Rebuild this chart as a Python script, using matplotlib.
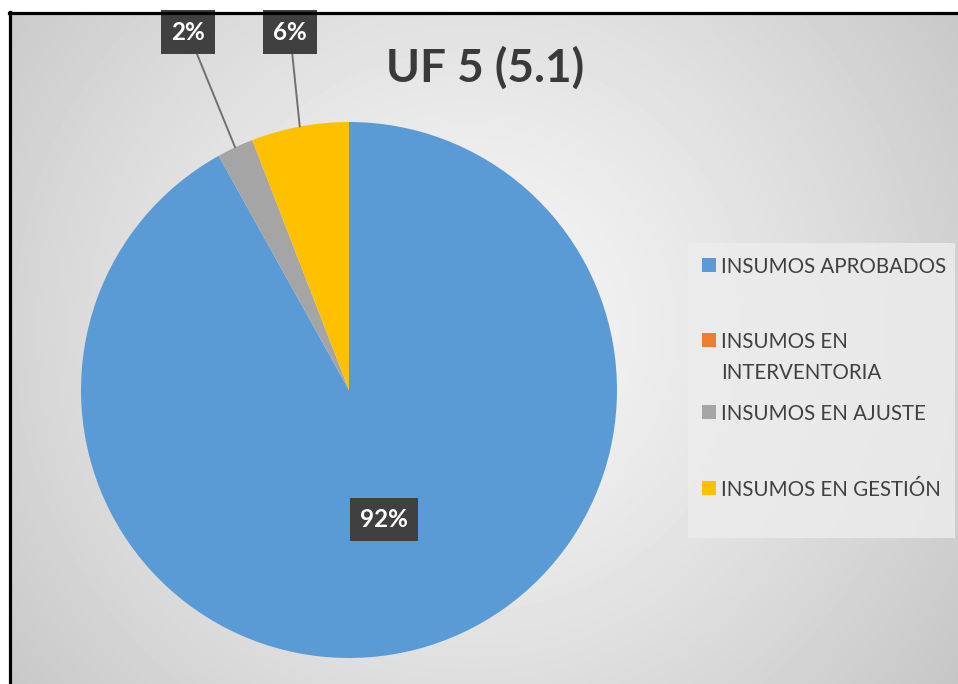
import numpy as np
import matplotlib.pyplot as plt
from matplotlib.patches import Rectangle
from matplotlib.lines import Line2D

# data
categories = ["INSUMOS APROBADOS", "INSUMOS EN\nINTERVENTORIA", "INSUMOS EN AJUSTE", "INSUMOS EN GESTIÓN"]
values = [125, 0, 3, 8]
colors = ["#5B9BD5", "#ED7D31", "#A5A5A5", "#FFC000"]
title = "UF 5 (5.1)"

plt.rcParams['font.family'] = ['Lato', 'DejaVu Sans']

W, H = 958, 684
fig = plt.figure(figsize=(W / 100, H / 100), dpi=100)
fig.patch.set_facecolor('white')


def fx(x):
    return x / W


def fy(y):
    return 1 - y / H


# background with radial gradient
bg = fig.add_axes([fx(9), 0, 1 - fx(9), fy(12)])
xx, yy = np.meshgrid(np.arange(9, W), np.arange(12, H))
d = np.hypot(xx - 470, yy - 330)
g = 0.965 - 0.19 * (d / d.max()) ** 1.3
bg.imshow(g, cmap='gray', vmin=0, vmax=1, extent=[9, W, H, 12], aspect='auto')
bg.set_xlim(9, W)
bg.set_ylim(H, 12)
bg.axis('off')

# border (top and left visible)
fig.add_artist(Line2D([fx(9), 1], [fy(13), fy(13)], color='black', lw=2.3, zorder=10))
fig.add_artist(Line2D([fx(10), fx(10)], [fy(12), 0], color='black', lw=2.3, zorder=10))

# pie
cx, cy, R = 349, 390, 268
ax = fig.add_axes([fx(cx - R), fy(cy + R), 2 * R / W, 2 * R / H])
wedges, _ = ax.pie(values, colors=colors, startangle=90, counterclock=False,
                   wedgeprops=dict(linewidth=0))
ax.set_xlim(-1, 1)
ax.set_ylim(-1, 1)

total = sum(values)
label_pos = [None, None, (188, 32), (290, 32)]
box = dict(boxstyle='square,pad=0.42', fc='#404040', ec='none')
for w, v, pos in zip(wedges, values, label_pos):
    if v == 0:
        continue
    ang = np.deg2rad((w.theta1 + w.theta2) / 2)
    txt = f"{v / total * 100:.0f}%"
    if pos is None:
        ax.text(0.5 * np.cos(ang) + 0.005, 0.5 * np.sin(ang) - 0.0, txt, ha='center', va='center',
                color='white', fontsize=17.5, fontweight='bold', bbox=box)
    else:
        ax.annotate(txt, xy=(np.cos(ang), np.sin(ang)), xycoords='data',
                    xytext=(fx(pos[0]), fy(pos[1])), textcoords='figure fraction',
                    ha='center', va='center', color='white', fontsize=17.5, fontweight='bold',
                    bbox=box, annotation_clip=False,
                    arrowprops=dict(arrowstyle='-', color='#707070', lw=1.4,
                                    shrinkA=0, shrinkB=0))

# title
fig.text(fx(485), fy(68), title, ha='center', va='center', fontsize=33,
         fontweight='bold', color='#3a3a3a')

# legend drawn by hand to match the uneven spacing
fig.add_artist(Rectangle((fx(688), fy(538)), fx(955) - fx(688), fy(243) - fy(538),
                         transform=fig.transFigure, fc='#ececec', ec='none', alpha=0.85))
leg_y = [265, 340, 412, 488]
for lab, col, y in zip(categories, colors, leg_y):
    fig.add_artist(Rectangle((fx(702), fy(y + 7)), 14 / W, 14 / H,
                             transform=fig.transFigure, fc=col, ec='none'))
    fig.text(fx(721), fy(y - 8), lab, ha='left', va='top', fontsize=14.8,
             color='#404040', linespacing=1.7)

fig.savefig('out.png', dpi=100)
